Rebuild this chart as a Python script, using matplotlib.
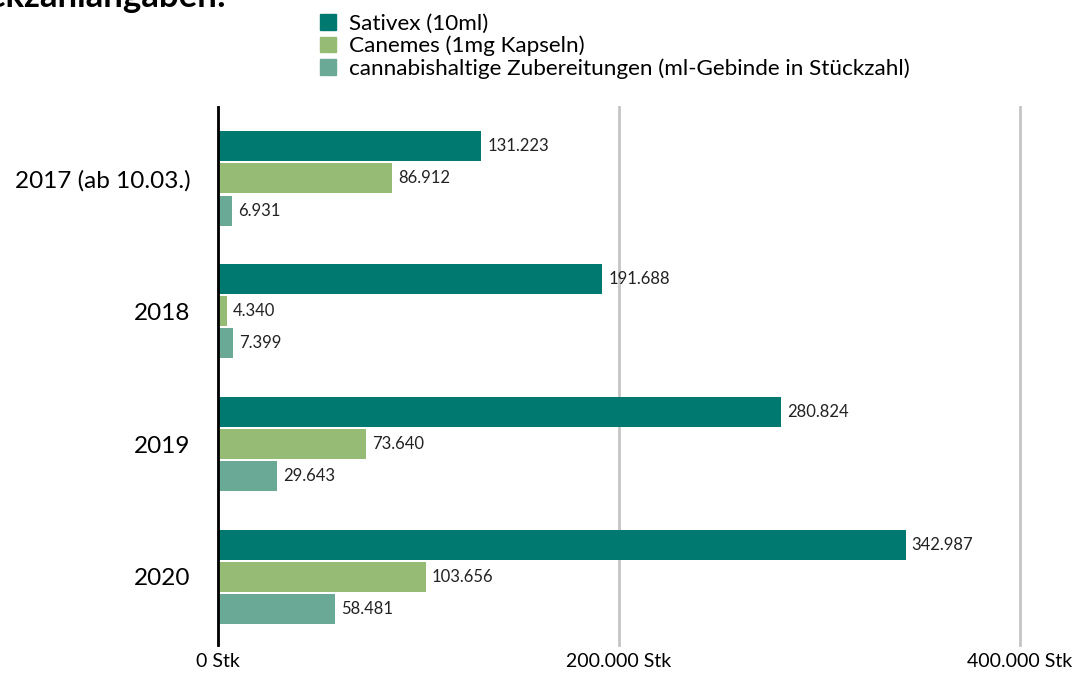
import numpy as np
import matplotlib.pyplot as plt
from matplotlib.patches import Patch

plt.rcParams['font.family'] = ['Lato', 'DejaVu Sans']

years = ['2017 (ab 10.03.)', '2018', '2019', '2020']
sativex = [131223, 191688, 280824, 342987]
canemes = [86912, 4340, 73640, 103656]
zubereitungen = [6931, 7399, 29643, 58481]
series_names = ['Sativex (10ml)', 'Canemes (1mg Kapseln)',
                'cannabishaltige Zubereitungen (ml-Gebinde in Stückzahl)']
colors = ['#007A70', '#95BB74', '#6AA996']
xticks = [0, 200000, 400000]
xticklabels = ['0 Stk', '200.000 Stk', '400.000 Stk']

def fmt(v):
    return f'{v:,}'.replace(',', '.')

fig = plt.figure(figsize=(10.78, 6.73), dpi=100)
ax = fig.add_axes([218/1078, 1-645/673, (1020-218)/1078, (645-107)/673])

y = np.arange(len(years))
h = 0.226
off = 0.242
for i, (vals, c) in enumerate(zip([sativex, canemes, zubereitungen], colors)):
    pos = y + (i - 1) * off
    ax.barh(pos, vals, height=h, color=c, zorder=3)
    for p, v in zip(pos, vals):
        ax.text(v + 3000, p, fmt(v), va='center', ha='left', fontsize=12, color='#222222')

ax.set_xlim(0, 400000)
ax.set_ylim(3.512, -0.538)
ax.set_xticks(xticks)
ax.set_xticklabels(xticklabels, fontsize=14)
ax.set_yticks(y)
ax.set_yticklabels(years, fontsize=17.5)
ax.tick_params(axis='y', length=0, pad=20)
ax.tick_params(axis='x', length=0, pad=6)
ax.grid(axis='x', color='#C4C4C4', linewidth=2, zorder=0)
for gl in ax.get_xgridlines():
    gl.set_clip_on(False)
for s in ['top', 'right', 'bottom']:
    ax.spines[s].set_visible(False)
ax.spines['left'].set_linewidth(2)
ax.spines['left'].set_color('black')
ax.spines['left'].set_zorder(4)

handles = [Patch(color=c) for c in colors]
fig.legend(handles, series_names, loc='upper left', bbox_to_anchor=(311/1078, 1-5/673),
           frameon=False, fontsize=16.2, handlelength=0.7, handleheight=0.7,
           handletextpad=0.6, labelspacing=0.08, borderaxespad=0)

# title sits mostly above the picture edge, as in the source
fig.text(226/1078, 1-7/673, 'Stückzahlangaben:', ha='right', va='baseline',
         fontsize=25, fontweight='bold')

fig.savefig('out.png', dpi=100)
